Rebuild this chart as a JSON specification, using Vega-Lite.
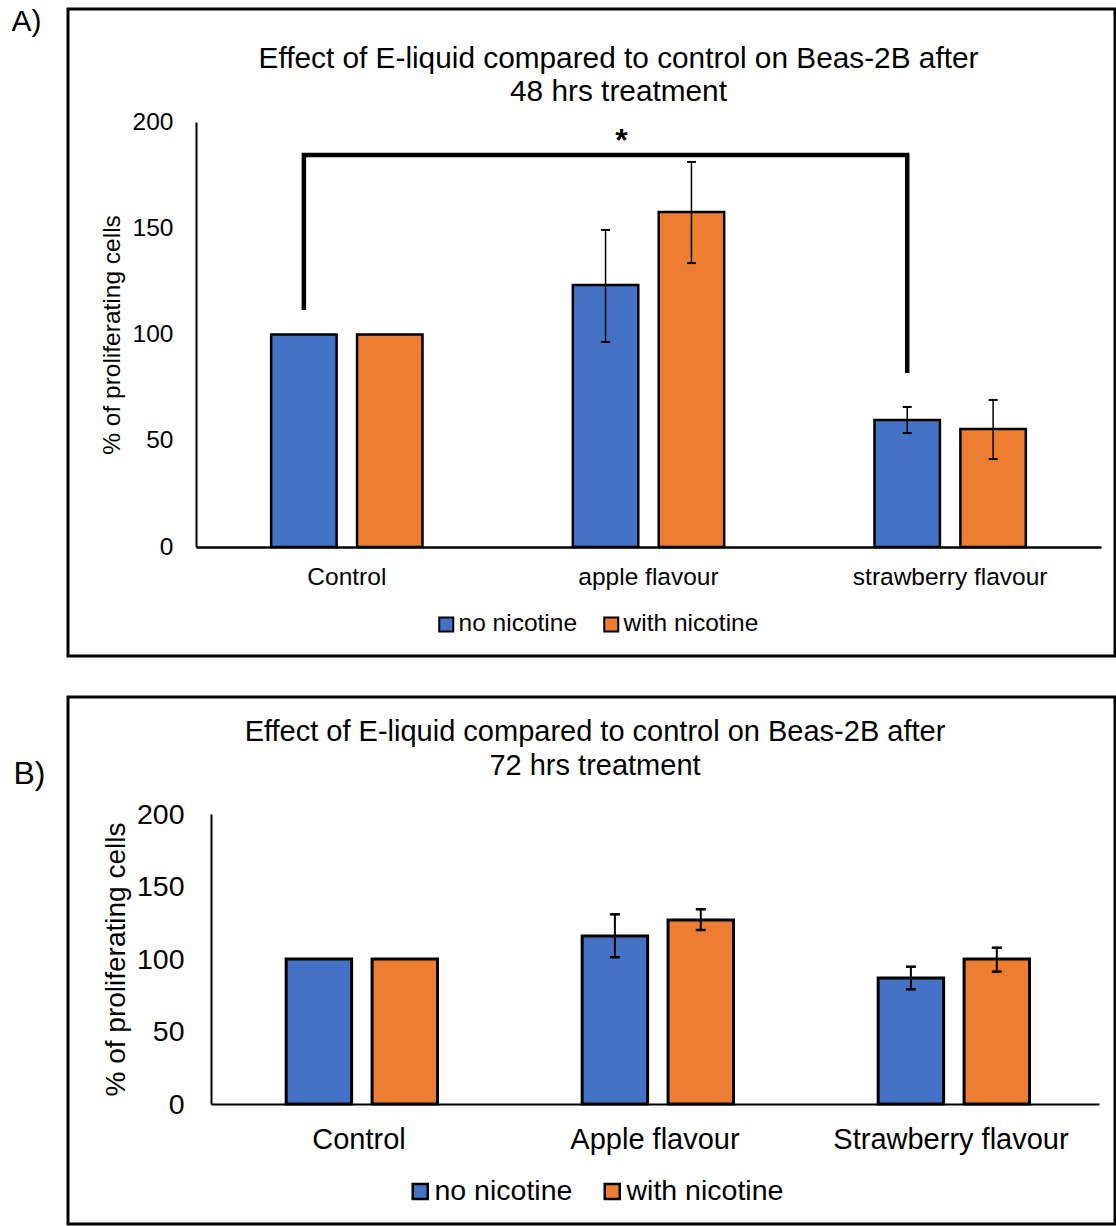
{
  "$schema": "https://vega.github.io/schema/vega-lite/v6.json",
  "padding": {"left": 9, "top": 4, "right": 0, "bottom": 0},
  "columns": 1,
  "spacing": 37,
  "resolve": {"scale": {"color": "independent"}, "legend": {"color": "independent"}},
  "config": {
    "font": "Liberation Sans",
    "view": {"stroke": "black", "strokeWidth": 3},
    "axis": {"grid": false, "ticks": false, "tickSize": 0, "domainColor": "black", "labelColor": "black", "titleColor": "black", "titleFontWeight": "normal", "labelLimit": 0},
    "legend": {"padding": 0, "labelColor": "black", "labelLimit": 0},
    "title": {"color": "black", "fontWeight": "normal"}
  },
  "datasets": {
    "a": [
      {"treatment": "Control", "nicotine": "no nicotine", "value": 100},
      {"treatment": "Control", "nicotine": "with nicotine", "value": 100},
      {"treatment": "apple flavour", "nicotine": "no nicotine", "value": 123.3, "lo": 96.5, "hi": 149.2},
      {"treatment": "apple flavour", "nicotine": "with nicotine", "value": 157.6, "lo": 133.6, "hi": 181.2},
      {"treatment": "strawberry flavour", "nicotine": "no nicotine", "value": 59.8, "lo": 53.6, "hi": 65.9},
      {"treatment": "strawberry flavour", "nicotine": "with nicotine", "value": 55.5, "lo": 41.4, "hi": 69.2}
    ],
    "abracket": [
      {"treatment": "Control", "nicotine": "no nicotine", "y": 111.5, "step": 1},
      {"treatment": "Control", "nicotine": "no nicotine", "y": 184.5, "step": 2},
      {"treatment": "strawberry flavour", "nicotine": "no nicotine", "y": 184.5, "step": 3},
      {"treatment": "strawberry flavour", "nicotine": "no nicotine", "y": 81.9, "step": 4}
    ],
    "astar": [
      {"treatment": "apple flavour", "nicotine": "no nicotine", "y": 186.4, "label": "*"}
    ],
    "b": [
      {"treatment": "Control", "nicotine": "no nicotine", "value": 100},
      {"treatment": "Control", "nicotine": "with nicotine", "value": 100},
      {"treatment": "Apple flavour", "nicotine": "no nicotine", "value": 115.9, "lo": 101.2, "hi": 130.8},
      {"treatment": "Apple flavour", "nicotine": "with nicotine", "value": 126.9, "lo": 120, "hi": 134.3},
      {"treatment": "Strawberry flavour", "nicotine": "no nicotine", "value": 86.9, "lo": 79.1, "hi": 94.7},
      {"treatment": "Strawberry flavour", "nicotine": "with nicotine", "value": 100, "lo": 91.3, "hi": 107.8}
    ]
  },
  "concat": [
    {
      "width": 1047,
      "height": 647,
      "title": {"text": ["Effect of E-liquid compared to control on Beas-2B after", "48 hrs treatment"], "fontSize": 29.8, "anchor": "middle", "frame": "group", "offset": -101, "lineHeight": 33, "dx": 27},
      "layer": [
        {
          "data": {"name": "a"},
          "mark": {"type": "bar", "stroke": "black", "strokeWidth": 2.5},
          "encoding": {
            "x": {"field": "treatment", "type": "nominal", "scale": {"domain": ["Control", "apple flavour", "strawberry flavour"], "range": [128, 1033], "paddingInner": 0, "paddingOuter": 0},
              "axis": {"title": "A)", "titleX": -57, "titleY": -526, "titleAlign": "left", "titleBaseline": "middle", "titleAngle": 0, "titleFontSize": 30, "labelFontSize": 24.5, "labelPadding": 18, "labelAngle": 0, "offset": -109, "domainWidth": 2.5}},
            "xOffset": {"field": "nicotine", "type": "nominal", "scale": {"domain": ["no nicotine", "with nicotine"], "paddingInner": 0.238, "paddingOuter": 0.875}},
            "y": {"field": "value", "type": "quantitative", "scale": {"domain": [0, 200], "range": [538, 113], "nice": false},
              "axis": {"title": "% of proliferating cells", "values": [0, 50, 100, 150, 200], "offset": -128, "labelFontSize": 24.5, "labelPadding": 23, "titleFontSize": 24.5, "titlePadding": 8, "domainWidth": 2}},
            "color": {"field": "nicotine", "type": "nominal", "scale": {"domain": ["no nicotine", "with nicotine"], "range": ["#4472C4", "#ED7D31"]},
              "legend": {"orient": "none", "legendX": 366, "legendY": 603, "direction": "horizontal", "title": null, "symbolType": "square", "symbolSize": 196, "symbolStrokeColor": "black", "symbolStrokeWidth": 2, "symbolOpacity": 1, "labelFontSize": 24.5, "labelOffset": 0, "columnPadding": 21}}
          }
        },
        {
          "data": {"name": "a"},
          "transform": [{"filter": "datum.lo != null"}],
          "mark": {"type": "rule", "color": "black", "strokeWidth": 1.5},
          "encoding": {
            "x": {"field": "treatment", "type": "nominal"},
            "xOffset": {"field": "nicotine", "type": "nominal"},
            "y": {"field": "lo", "type": "quantitative"},
            "y2": {"field": "hi"}
          }
        },
        {
          "data": {"name": "a"},
          "transform": [{"filter": "datum.lo != null"}],
          "mark": {"type": "tick", "color": "black", "thickness": 2, "size": 9, "orient": "horizontal", "opacity": 1},
          "encoding": {
            "x": {"field": "treatment", "type": "nominal"},
            "xOffset": {"field": "nicotine", "type": "nominal"},
            "y": {"field": "hi", "type": "quantitative"}
          }
        },
        {
          "data": {"name": "a"},
          "transform": [{"filter": "datum.lo != null"}],
          "mark": {"type": "tick", "color": "black", "thickness": 2, "size": 9, "orient": "horizontal", "opacity": 1},
          "encoding": {
            "x": {"field": "treatment", "type": "nominal"},
            "xOffset": {"field": "nicotine", "type": "nominal"},
            "y": {"field": "lo", "type": "quantitative"}
          }
        },
        {
          "data": {"name": "abracket"},
          "mark": {"type": "line", "color": "black", "strokeWidth": 4.5, "strokeJoin": "miter", "strokeCap": "butt"},
          "encoding": {
            "x": {"field": "treatment", "type": "nominal"},
            "xOffset": {"field": "nicotine", "type": "nominal"},
            "y": {"field": "y", "type": "quantitative"},
            "order": {"field": "step", "type": "quantitative"}
          }
        },
        {
          "data": {"name": "astar"},
          "mark": {"type": "text", "fontSize": 32, "fontWeight": "bold", "color": "black", "dx": 16, "baseline": "alphabetic"},
          "encoding": {
            "x": {"field": "treatment", "type": "nominal"},
            "xOffset": {"field": "nicotine", "type": "nominal"},
            "y": {"field": "y", "type": "quantitative"},
            "text": {"field": "label"}
          }
        }
      ]
    },
    {
      "width": 1047,
      "height": 527,
      "title": {"text": ["Effect of E-liquid compared to control on Beas-2B after", "72 hrs treatment"], "fontSize": 29, "anchor": "middle", "frame": "group", "offset": -84, "lineHeight": 34, "dx": 3.5},
      "layer": [
        {
          "data": {"name": "b"},
          "mark": {"type": "bar", "stroke": "black", "strokeWidth": 3},
          "encoding": {
            "x": {"field": "treatment", "type": "nominal", "scale": {"domain": ["Control", "Apple flavour", "Strawberry flavour"], "range": [143, 1031], "paddingInner": 0, "paddingOuter": 0},
              "axis": {"title": "B)", "titleX": -55, "titleY": -331, "titleAlign": "left", "titleBaseline": "middle", "titleAngle": 0, "titleFontSize": 32, "labelFontSize": 29, "labelPadding": 21, "labelAngle": 0, "offset": -120, "domainWidth": 2}},
            "xOffset": {"field": "nicotine", "type": "nominal", "scale": {"domain": ["no nicotine", "with nicotine"], "paddingInner": 0.238, "paddingOuter": 0.879}},
            "y": {"field": "value", "type": "quantitative", "scale": {"domain": [0, 200], "range": [407, 117], "nice": false},
              "axis": {"title": "% of proliferating cells", "values": [0, 50, 100, 150, 200], "offset": -143, "labelFontSize": 28.5, "labelPadding": 27, "titleFontSize": 28, "titlePadding": 6, "domainWidth": 2}},
            "color": {"field": "nicotine", "type": "nominal", "scale": {"domain": ["no nicotine", "with nicotine"], "range": ["#4472C4", "#ED7D31"]},
              "legend": {"orient": "none", "legendX": 338, "legendY": 480, "direction": "horizontal", "title": null, "symbolType": "square", "symbolSize": 225, "symbolStrokeColor": "black", "symbolStrokeWidth": 2.5, "symbolOpacity": 1, "labelFontSize": 28.5, "labelOffset": 0, "columnPadding": 25}}
          }
        },
        {
          "data": {"name": "b"},
          "transform": [{"filter": "datum.lo != null"}],
          "mark": {"type": "rule", "color": "black", "strokeWidth": 2},
          "encoding": {
            "x": {"field": "treatment", "type": "nominal"},
            "xOffset": {"field": "nicotine", "type": "nominal"},
            "y": {"field": "lo", "type": "quantitative"},
            "y2": {"field": "hi"}
          }
        },
        {
          "data": {"name": "b"},
          "transform": [{"filter": "datum.lo != null"}],
          "mark": {"type": "tick", "color": "black", "thickness": 2.5, "size": 10, "orient": "horizontal", "opacity": 1},
          "encoding": {
            "x": {"field": "treatment", "type": "nominal"},
            "xOffset": {"field": "nicotine", "type": "nominal"},
            "y": {"field": "hi", "type": "quantitative"}
          }
        },
        {
          "data": {"name": "b"},
          "transform": [{"filter": "datum.lo != null"}],
          "mark": {"type": "tick", "color": "black", "thickness": 2.5, "size": 10, "orient": "horizontal", "opacity": 1},
          "encoding": {
            "x": {"field": "treatment", "type": "nominal"},
            "xOffset": {"field": "nicotine", "type": "nominal"},
            "y": {"field": "lo", "type": "quantitative"}
          }
        }
      ]
    }
  ]
}
